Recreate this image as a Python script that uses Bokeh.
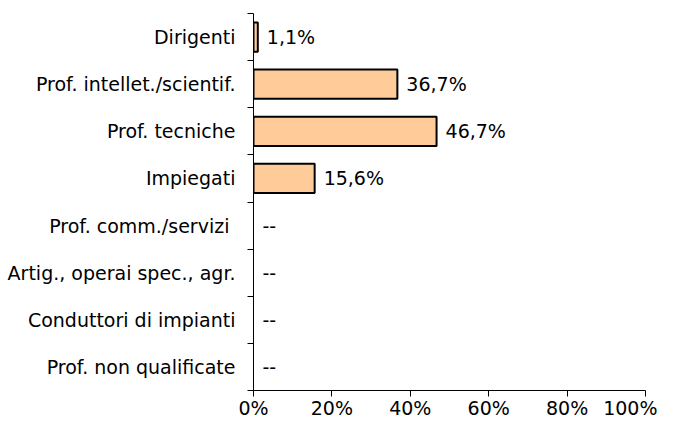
from bokeh.plotting import figure
from bokeh.models import ColumnDataSource, Range1d, FixedTicker
from bokeh.core.properties import value
from bokeh.embed import file_html
from bokeh.resources import INLINE

# ---- data ----
categories = [
    "Dirigenti",
    "Prof. intellet./scientif.",
    "Prof. tecniche",
    "Impiegati",
    "Prof. comm./servizi ",
    "Artig., operai spec., agr.",
    "Conduttori di impianti",
    "Prof. non qualificate",
]
values = [1.1, 36.7, 46.7, 15.6, None, None, None, None]
value_labels = ["1,1%", "36,7%", "46,7%", "15,6%", "--", "--", "--", "--"]
x_ticks = [0, 20, 40, 60, 80, 100]
x_tick_labels = ["0%", "20%", "40%", "60%", "80%", "100%"]

n = len(categories)
ypos = [n - i - 0.5 for i in range(n)]
bar_vals = [float("nan") if v is None else v for v in values]
label_x = [0 if v is None else v for v in values]

src = ColumnDataSource(dict(y=ypos, right=bar_vals, lx=label_x, txt=value_labels))

FONT = "DejaVu Sans"
FS = "19px"

p = figure(
    width=657, height=421,
    x_range=Range1d(0, 100), y_range=Range1d(0, n),
    output_backend="svg", toolbar_location=None,
    min_border_left=253, min_border_right=12,
    min_border_top=13, min_border_bottom=20,
)
p.outline_line_color = None
p.xgrid.visible = False
p.ygrid.visible = False
p.background_fill_color = "white"
p.border_fill_color = "white"

p.hbar(y="y", left=0, right="right", height=0.62, source=src,
       fill_color="#FFCC99", line_color="black", line_width=2)

p.text(x="lx", y="y", text="txt", source=src, x_offset=9,
       text_font=value(FONT), text_font_size=FS, text_color="black",
       text_align="left", text_baseline="middle")

# x axis
xa = p.xaxis[0]
xa.ticker = FixedTicker(ticks=x_ticks)
xa.major_label_overrides = {t: l for t, l in zip(x_ticks, x_tick_labels)}
xa.major_tick_out = 6
xa.major_tick_in = 0
xa.minor_tick_out = 0
xa.minor_tick_in = 0
xa.major_label_standoff = 0
xa.axis_line_color = "black"
xa.major_tick_line_color = "black"
xa.major_label_text_font = FONT
xa.major_label_text_font_size = FS
xa.major_label_text_color = "black"

# y axis: labels at category centres, ticks at category boundaries
ya = p.yaxis[0]
ya.ticker = FixedTicker(ticks=ypos, minor_ticks=list(range(n + 1)))
ya.major_label_overrides = {y: c for y, c in zip(ypos, categories)}
ya.major_tick_out = 0
ya.major_tick_in = 0
ya.minor_tick_out = 6
ya.minor_tick_in = 0
ya.minor_tick_line_color = "black"
ya.major_label_standoff = 12
ya.axis_line_color = "black"
ya.major_label_text_font = FONT
ya.major_label_text_font_size = FS
ya.major_label_text_color = "black"

open("out.html", "w").write(file_html(p, INLINE))
